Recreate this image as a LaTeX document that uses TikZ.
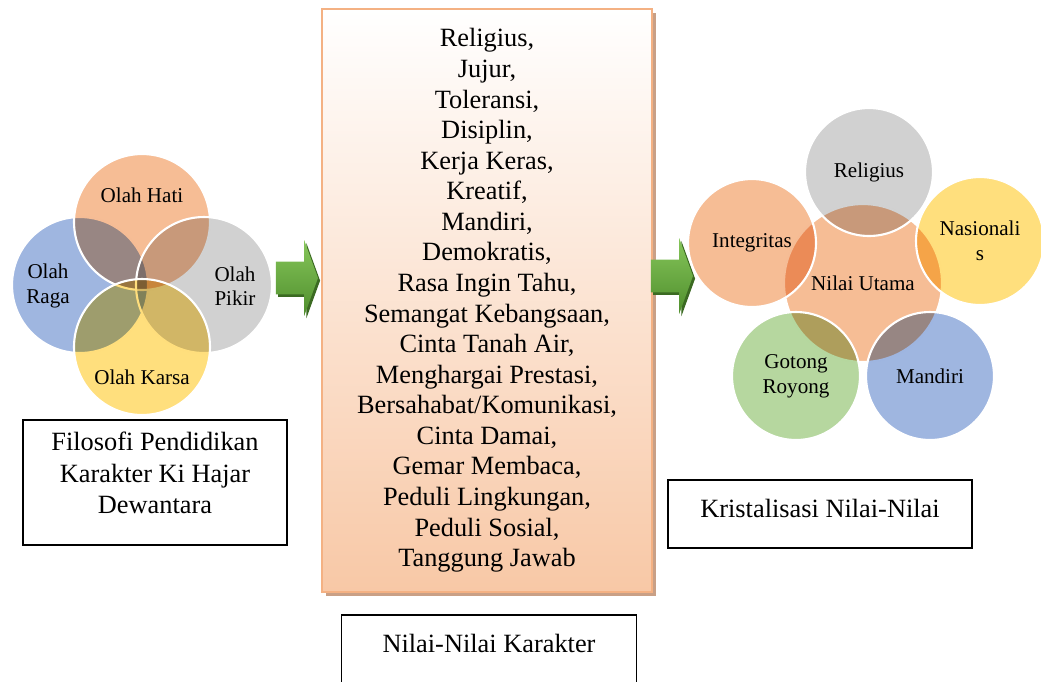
\documentclass[tikz,border=0pt]{standalone}
\usepackage{fontspec}
\setmainfont{Liberation Serif}
\usetikzlibrary{shapes.arrows, shadows, positioning}
\definecolor{hatiPeach}{HTML}{F4B183}
\definecolor{ragaBlue}{HTML}{8EA9DB}
\definecolor{pikirGray}{HTML}{C9C9C9}
\definecolor{karsaYellow}{HTML}{FFD966}
\definecolor{royongGreen}{HTML}{A9D08E}
\definecolor{listBottom}{HTML}{F8C8A6}
\definecolor{listLine}{HTML}{F4B183}
\definecolor{listShade}{HTML}{C9A086}
\definecolor{arrowLight}{HTML}{86C65A}
\definecolor{arrowDark}{HTML}{4F8E2D}
\definecolor{arrowShade}{HTML}{3B6A22}
\tikzset{bubble/.style={circle, draw=white, line width=1.2pt, inner sep=0pt,
  align=center, font=\fontsize{12}{14}\selectfont,
  preaction={fill=#1, fill opacity=.85, blend mode=multiply}}}
\tikzset{venn/.style={bubble=#1, minimum size=2.72cm}}
\tikzset{petal/.style={bubble=#1, minimum size=2.56cm}}
\tikzset{lbl/.style={align=center, font=\fontsize{12}{14}\selectfont}}
\tikzset{bigtxt/.style={align=center, font=\fontsize{15}{18}\selectfont}}
\tikzset{plainbox/.style={rectangle, draw=black, line width=1pt, inner sep=0pt}}
\tikzset{listbox/.style={rectangle, draw=listLine, line width=1.5pt,
  top color=white, bottom color=listBottom, align=center,
  font=\fontsize{15}{17.4}\selectfont,
  drop shadow={shadow xshift=2.3pt, shadow yshift=-2.3pt, fill=listShade, opacity=1}}}
\tikzset{greenarrow/.style={single arrow, minimum height=0.84cm,
  inner xsep=0pt, inner ysep=0.32cm,
  single arrow head extend=0.43cm, single arrow tip angle=140,
  top color=arrowLight, bottom color=arrowDark, draw=none,
  drop shadow={shadow xshift=1.2pt, shadow yshift=-1.5pt, fill=arrowShade, opacity=1}}}

\begin{document}
\begin{tikzpicture}[x=0.02cm, y=-0.02cm]
\useasboundingbox (0,0) rectangle (1041,681);

\node [venn=ragaBlue] (raga) at (80, 285) {};
\node [venn=hatiPeach] (hati) at (142, 222) {};
\node [venn=pikirGray] (pikir) at (204, 285) {};
\node [venn=karsaYellow] (karsa) at (142, 347) {};

\node [lbl] (tHati) at (142, 195) {Olah Hati};
\node [lbl] (tRaga) at (48, 286) {Olah\\Raga};
\node [lbl] (tPikir) at (235, 286) {Olah\\Pikir};
\node [lbl] (tKarsa) at (142, 377) {Olah Karsa};

\node [plainbox,
minimum width = 5.28cm,
minimum height = 2.5cm] (filo) at (155, 482.5) {};
\node [bigtxt] (tFilo) at (155, 473) {Filosofi Pendidikan\\Karakter Ki Hajar\\Dewantara};

\node [greenarrow] (arrA) at (294, 278) {};

\node [listbox,
minimum width = 6.6cm,
minimum height = 11.66cm] (nilai) at (487, 300.5) {Religius,\\Jujur,\\Toleransi,\\Disiplin,\\Kerja Keras,\\Kreatif,\\Mandiri,\\Demokratis,\\Rasa Ingin Tahu,\\Semangat Kebangsaan,\\Cinta Tanah Air,\\Menghargai Prestasi,\\Bersahabat/Komunikasi,\\Cinta Damai,\\Gemar Membaca,\\Peduli Lingkungan,\\Peduli Sosial,\\Tanggung Jawab};

\node [plainbox,
minimum width = 5.9cm,
minimum height = 2cm] (karakter) at (489, 665) {};
\node [bigtxt] (tKarakter) at (489, 643) {Nilai-Nilai Karakter};

\node [greenarrow] (arrB) at (669, 276) {};

\node [bubble=hatiPeach, minimum size = 3.16cm] (utama) at (863, 283) {Nilai Utama};
\node [petal=pikirGray] (religius) at (869, 172) {Religius};
\node [petal=hatiPeach] (integritas) at (752, 243) {Integritas};
\node [petal=karsaYellow] (nasionalis) at (980, 241) {Nasionali\\s};
\node [petal=royongGreen] (royong) at (796, 376) {Gotong\\Royong};
\node [petal=ragaBlue] (mandiri) at (930, 376) {Mandiri};

\node [plainbox,
minimum width = 6.08cm,
minimum height = 1.36cm] (krist) at (820, 514) {};
\node [bigtxt] (tKrist) at (820, 508) {Kristalisasi Nilai-Nilai};

\end{tikzpicture}
\end{document}
